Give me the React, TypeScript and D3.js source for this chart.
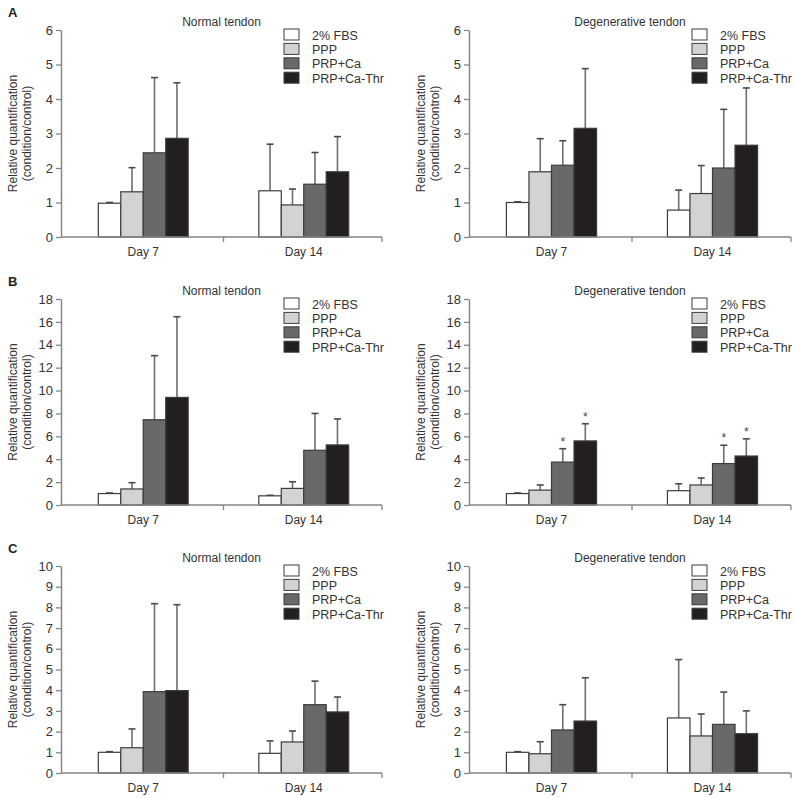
import React, { useEffect, useRef } from 'react';
import * as d3 from 'd3';

// categories
const days = ['Day 7', 'Day 14'];
const groups = ['2% FBS', 'PPP', 'PRP+Ca', 'PRP+Ca-Thr'];
const rowLetters = ['A', 'B', 'C'];
const panelTitles = ['Normal tendon', 'Degenerative tendon'];
const yMax = [6, 18, 10];
const yStep = [1, 2, 1];

// means [day][group] and upper SD
const aNormalMean = [[0.98, 1.31, 2.44, 2.86], [1.34, 0.93, 1.53, 1.89]];
const aNormalSd = [[0.02, 0.7, 2.18, 1.61], [1.35, 0.46, 0.92, 1.02]];
const aDegenMean = [[1.0, 1.89, 2.08, 3.15], [0.78, 1.26, 2.0, 2.66]];
const aDegenSd = [[0.02, 0.96, 0.71, 1.73], [0.58, 0.81, 1.7, 1.66]];

const bNormalMean = [[1.0, 1.4, 7.45, 9.4], [0.8, 1.45, 4.78, 5.25]];
const bNormalSd = [[0.05, 0.55, 5.6, 7.05], [0.05, 0.58, 3.22, 2.27]];
const bDegenMean = [[1.0, 1.3, 3.75, 5.6], [1.25, 1.75, 3.62, 4.28]];
const bDegenSd = [[0.05, 0.45, 1.17, 1.5], [0.6, 0.61, 1.6, 1.5]];
const bDegenStar = [[false, false, true, true], [false, false, true, true]];

const cNormalMean = [[1.0, 1.22, 3.93, 3.98], [0.95, 1.5, 3.3, 2.95]];
const cNormalSd = [[0.03, 0.91, 4.25, 4.15], [0.6, 0.53, 1.14, 0.72]];
const cDegenMean = [[1.0, 0.93, 2.08, 2.51], [2.66, 1.79, 2.35, 1.9]];
const cDegenSd = [[0.03, 0.58, 1.22, 2.09], [2.82, 1.06, 1.56, 1.1]];

const noStar = [[false, false, false, false], [false, false, false, false]];

const panels = [
  [{ mean: aNormalMean, sd: aNormalSd, star: noStar }, { mean: aDegenMean, sd: aDegenSd, star: noStar }],
  [{ mean: bNormalMean, sd: bNormalSd, star: noStar }, { mean: bDegenMean, sd: bDegenSd, star: bDegenStar }],
  [{ mean: cNormalMean, sd: cNormalSd, star: noStar }, { mean: cDegenMean, sd: cDegenSd, star: noStar }],
];

const fills = ['#ffffff', '#d3d3d3', '#69696c', '#231f20'];
const FONT = 'Liberation Sans, Arial, sans-serif';
const TEXT = '#333333';
const AXIS = '#858585';

const App = () => {
  const svgRef = useRef<SVGSVGElement>(null);

  useEffect(() => {
    const svg = d3.select(svgRef.current);
    svg.selectAll('*').remove();

    const width = 798;
    const height = 798;
    svg.attr('width', width).attr('height', height);

    // layout of rows (axis top / bottom) and columns (axis x / end)
    const rowTop = [30, 299, 566];
    const rowBottom = [237, 505, 773];
    const colLeft = [61, 469];
    const colRight = [382, 791];

    const color = d3.scaleOrdinal<string, string>().domain(groups).range(fills);

    rowLetters.forEach((letter, r) => {
      svg.append('text')
        .attr('x', 8)
        .attr('y', rowTop[r] - 13)
        .attr('font-family', FONT)
        .attr('font-weight', 'bold')
        .attr('font-size', 13)
        .attr('fill', '#222')
        .text(letter);

      panels[r].forEach((p, c) => {
        const x0 = colLeft[c];
        const x1 = colRight[c];
        const y = d3.scaleLinear().domain([0, yMax[r]]).range([rowBottom[r], rowTop[r]]);
        const xDay = d3.scaleBand().domain(days).range([x0 + 2, x1 + 2]).paddingInner(0.44).paddingOuter(0.22);
        const xGroup = d3.scaleBand().domain(groups).range([0, xDay.bandwidth()]);

        const g = svg.append('g');

        // title
        g.append('text')
          .attr('x', (x0 + x1) / 2)
          .attr('y', rowTop[r] - 4)
          .attr('text-anchor', 'middle')
          .attr('font-family', FONT)
          .attr('font-size', 12)
          .attr('fill', TEXT)
          .text(panelTitles[c]);

        // y axis label
        const ly = (rowTop[r] + rowBottom[r]) / 2;
        ['Relative quantification', '(condition/control)'].forEach((t, i) => {
          g.append('text')
            .attr('transform', `translate(${x0 - 44 + i * 14},${ly}) rotate(-90)`)
            .attr('text-anchor', 'middle')
            .attr('font-family', FONT)
            .attr('font-size', 12)
            .attr('fill', TEXT)
            .text(t);
        });

        // bars
        days.forEach((day, di) => {
          groups.forEach((grp, gi) => {
            const bx = (xDay(day) as number) + (xGroup(grp) as number);
            const bw = xGroup.bandwidth();
            const m = p.mean[di][gi];
            const s = p.sd[di][gi];
            const cx = bx + bw / 2;

            g.append('line')
              .attr('x1', cx).attr('x2', cx)
              .attr('y1', y(m)).attr('y2', y(m + s))
              .attr('stroke', '#6e6e6e')
              .attr('stroke-width', 1.6);
            g.append('line')
              .attr('x1', cx - 3.5).attr('x2', cx + 3.5)
              .attr('y1', y(m + s)).attr('y2', y(m + s))
              .attr('stroke', '#4a4a4a')
              .attr('stroke-width', 1.6);

            g.append('rect')
              .attr('x', bx)
              .attr('y', y(m))
              .attr('width', bw)
              .attr('height', y(0) - y(m))
              .attr('fill', color(grp))
              .attr('stroke', '#3c3c3c')
              .attr('stroke-width', 1.2);

            if (p.star[di][gi]) {
              g.append('text')
                .attr('x', cx)
                .attr('y', y(m + s) - 3)
                .attr('text-anchor', 'middle')
                .attr('font-family', FONT)
                .attr('font-size', 12)
                .attr('fill', '#444')
                .text('*');
            }
          });

          // day label
          g.append('text')
            .attr('x', (xDay(day) as number) + xDay.bandwidth() / 2)
            .attr('y', rowBottom[r] + 19)
            .attr('text-anchor', 'middle')
            .attr('font-family', FONT)
            .attr('font-size', 12)
            .attr('fill', TEXT)
            .text(day);
        });

        // y axis
        const ticks = d3.range(0, yMax[r] + 0.001, yStep[r]);
        const yAxis = g.append('g')
          .attr('transform', `translate(${x0},0)`)
          .call(d3.axisLeft(y).tickValues(ticks).tickFormat(d3.format('d')).tickSize(5).tickPadding(3).tickSizeOuter(0));
        yAxis.select('.domain').attr('stroke', AXIS).attr('stroke-width', 1.5);
        yAxis.selectAll('.tick line').attr('stroke', AXIS).attr('stroke-width', 1.3);
        yAxis.selectAll('.tick text')
          .attr('font-family', FONT)
          .attr('font-size', 13)
          .attr('fill', TEXT);

        // x axis
        g.append('line')
          .attr('x1', x0).attr('x2', x1)
          .attr('y1', y(0)).attr('y2', y(0))
          .attr('stroke', AXIS).attr('stroke-width', 1.5);
        [(x0 + 2 + x1 + 2) / 2, x1].forEach(tx => {
          g.append('line')
            .attr('x1', tx).attr('x2', tx)
            .attr('y1', y(0)).attr('y2', y(0) + 5)
            .attr('stroke', AXIS).attr('stroke-width', 1.3);
        });

        // legend
        const legend = g.append('g')
          .attr('transform', `translate(${x0 + 223},${rowTop[r] - 1})`);
        groups.forEach((grp, i) => {
          const li = legend.append('g').attr('transform', `translate(0,${i * 14.4})`);
          li.append('rect')
            .attr('x', 0).attr('y', 0)
            .attr('width', 15).attr('height', 11)
            .attr('fill', color(grp))
            .attr('stroke', '#3c3c3c')
            .attr('stroke-width', 1);
          li.append('text')
            .attr('x', 28)
            .attr('y', 10.5)
            .attr('font-family', FONT)
            .attr('font-size', 12.5)
            .attr('fill', TEXT)
            .text(grp);
        });
      });
    });
  }, []);

  return (
    <div>
      <svg ref={svgRef} style={{ position: 'absolute', left: 0, top: 0, background: '#fff' }}></svg>
    </div>
  );
};

export default App;
